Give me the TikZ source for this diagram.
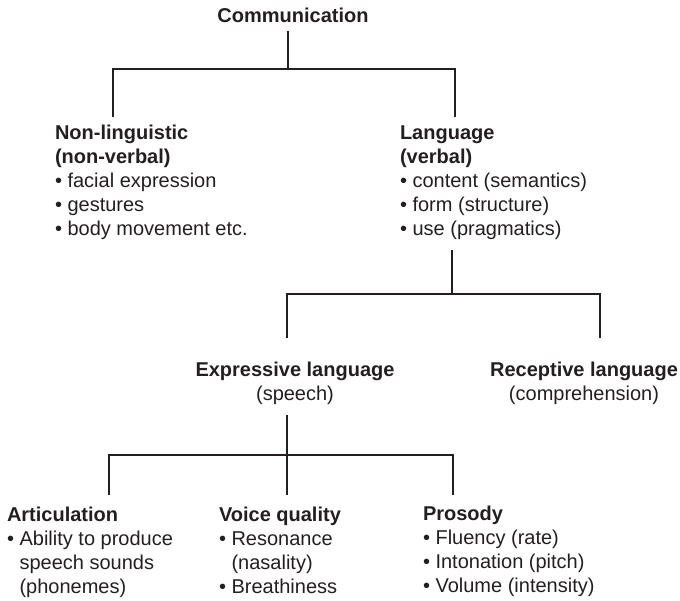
\documentclass[tikz,border=0pt]{standalone}
\usepackage{fontspec}
\setmainfont{Liberation Sans}
\definecolor{ink}{HTML}{231F20}
\begin{document}
\begin{tikzpicture}[x=1pt,y=-1pt,
  txt/.style={inner sep=0pt, outer sep=0pt, text=ink, font=\fontsize{20}{24}\selectfont},
  blk/.style={txt, align=left, anchor=north west},
  cblk/.style={txt, align=center, anchor=north},
  link/.style={draw=ink, line width=1.8pt, line cap=butt, line join=miter}]
\useasboundingbox (0,0) rectangle (680,601);
% nodes (first baseline = y + 16.8)
\node[txt, anchor=base, font=\fontsize{20}{24}\selectfont\bfseries] (comm) at (293,23) {Communication};
\node[blk] (nonling) at (55,123.2) {\strut\textbf{Non-linguistic}\\\textbf{(non-verbal)}\\• facial expression\\• gestures\\• body movement etc.};
\node[blk] (lang) at (400,123.2) {\strut\textbf{Language}\\\textbf{(verbal)}\\• content (semantics)\\• form (structure)\\• use (pragmatics)};
\node[cblk] (expr) at (295,359.2) {\strut\textbf{Expressive language}\\(speech)};
\node[cblk] (recep) at (584,359.2) {\strut\textbf{Receptive language}\\(comprehension)};
\node[blk] (artic) at (7,504.2) {\strut\textbf{Articulation}\\• Ability to produce\\\phantom{• }speech sounds\\\phantom{• }(phonemes)};
\node[blk] (voice) at (219,504.2) {\strut\textbf{Voice quality}\\• Resonance\\\phantom{• }(nasality)\\• Breathiness};
\node[blk] (pros) at (423,503.2) {\strut\textbf{Prosody}\\• Fluency (rate)\\• Intonation (pitch)\\• Volume (intensity)};
% junction coordinates
\coordinate (commB) at (288,31);
\coordinate (j1) at (288,69);
\coordinate (nonT) at (113,117);
\coordinate (langT) at (455,117);
\coordinate (langB) at (452,250);
\coordinate (j2) at (452,294);
\coordinate (exprT) at (287,338);
\coordinate (recepT) at (600,338);
\coordinate (exprB) at (287,415);
\coordinate (j3) at (287,455);
\coordinate (articT) at (109,495);
\coordinate (voiceT) at (287,495);
\coordinate (prosT) at (453,495);
% connectors
\draw[link] (commB) -- (j1);
\draw[link] (nonT) |- (j1) -| (langT);
\draw[link] (langB) -- (j2);
\draw[link] (exprT) |- (j2) -| (recepT);
\draw[link] (exprB) -- (voiceT);
\draw[link] (articT) |- (j3) -| (prosT);
\end{tikzpicture}
\end{document}
